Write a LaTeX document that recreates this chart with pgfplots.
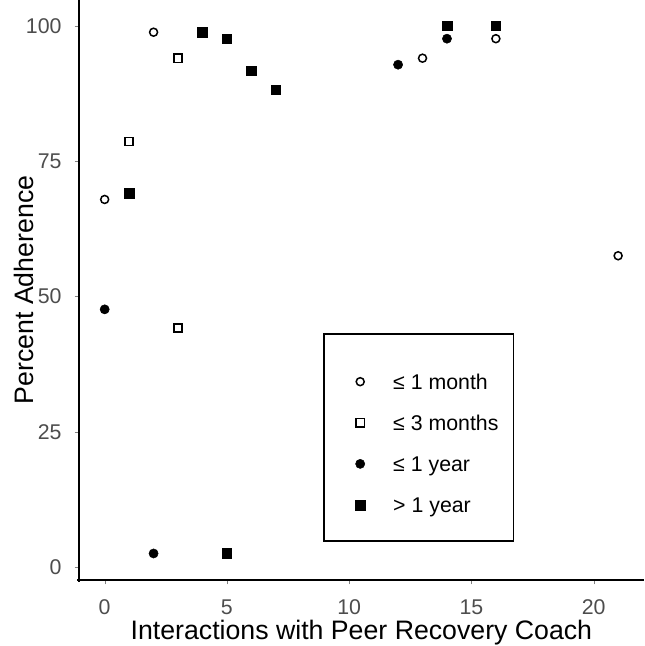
\documentclass[border=0pt]{standalone}
\usepackage{fontspec}
\setmainfont{Liberation Sans}
\usepackage{pgfplots}
\pgfplotsset{compat=1.18}
\definecolor{tickgray}{HTML}{4D4D4D}
\begin{document}
\begin{tikzpicture}
\useasboundingbox (-79bp,-66bp) rectangle (566bp,580bp);
\begin{axis}[
  at={(0,0)}, anchor=south west,
  scale only axis, width=564.8bp, height=580bp,
  xmin=-1.05, xmax=22.05, ymin=-2.4, ymax=104.75,
  axis x line=bottom, axis y line=left,
  axis line style={-, line width=1.9bp},
  tick align=outside,
  clip=false,
  xtick={0,5,10,15,20}, ytick={0,25,50,75,100},
  /pgf/number format/assume math mode=true,
  ticklabel style={font=\fontsize{21.4}{25}\selectfont, text=tickgray, inner sep=0pt},
  xticklabel style={anchor=base, yshift=-30bp},
  yticklabel style={anchor=east, xshift=-13bp},
  xlabel={Interactions with Peer Recovery Coach},
  ylabel={Percent Adherence},
  label style={font=\fontsize{26.8}{31}\selectfont, inner sep=0pt},
  xlabel style={at={(axis description cs:0.5,0)}, anchor=base, yshift=-59bp},
  ylabel style={at={([xshift=-45bp]axis description cs:0,0.5)}, anchor=base},
  legend style={at={(axis cs:8.94,43.3)}, anchor=north west, draw=black, line width=1.9bp,
    inner xsep=15bp, inner ysep=28bp, row sep=25.8bp, column sep=15bp,
    font=\fontsize{21.4}{25}\selectfont,
    nodes={inner sep=0pt, text height=15.3bp, text depth=0pt, anchor=base west}},
  legend cell align=left,
  legend image code/.code={\draw[#1] plot coordinates {(0bp,7.6bp)}; \path[draw=none, fill=none] (-21bp,0bp) rectangle (18bp,1bp);},
]
\addplot[forget plot, no marks, line width=1.9bp]
  coordinates {(-1.05,104.75) (-1.05,-2.4) (22.05,-2.4)};
\node[fill=black, draw=none, inner sep=0pt, minimum width=1.9bp, minimum height=581.9bp, anchor=north] at (axis cs:-1.05,104.75) {};
\node[fill=black, draw=none, inner sep=0pt, minimum height=1.9bp, minimum width=566.7bp, anchor=east] at (axis cs:22.05,-2.4) {};
\addplot[only marks, mark=o, mark size=4.0bp, mark options={line width=1.5bp, draw=black}]
  coordinates {(0,67.9) (2,98.8) (13,94.0) (16,97.6) (21,57.5)};
\addlegendentry[text height=27.7bp]{≤ 1 month}
\addplot[only marks, mark=square, mark size=4.1bp, mark options={line width=1.5bp, draw=black}]
  coordinates {(1,78.6) (3,94.0) (3,44.15)};
\addlegendentry{≤ 3 months}
\addplot[only marks, mark=*, mark size=4.6bp, mark options={line width=0.5bp, draw=black, fill=black}]
  coordinates {(0,47.6) (2,2.5) (12,92.8) (14,97.6)};
\addlegendentry{≤ 1 year}
\addplot[only marks, mark=square*, mark size=4.8bp, mark options={line width=0.5bp, draw=black, fill=black}]
  coordinates {(1,69.1) (4,98.8) (5,97.6) (6,91.7) (7,88.2) (5,2.5) (14,100) (16,100)};
\addlegendentry{> 1 year}
\end{axis}
\end{tikzpicture}
\end{document}
